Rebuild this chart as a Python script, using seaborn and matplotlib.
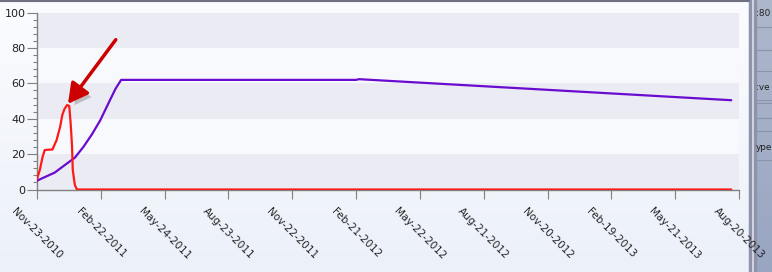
import numpy as np
import pandas as pd
import matplotlib
matplotlib.use("Agg")
import matplotlib.pyplot as plt
import matplotlib.dates as mdates
import matplotlib.patheffects as pe
from matplotlib.ticker import MultipleLocator
import seaborn as sns

# ---- data ----
red_dates = ["2010-11-23", "2010-11-27", "2010-12-01", "2010-12-04", "2010-12-09",
             "2010-12-15", "2010-12-21", "2010-12-26", "2010-12-29", "2011-01-01",
             "2011-01-05", "2011-01-08", "2011-01-10", "2011-01-12", "2011-01-13",
             "2011-01-16", "2011-01-19", "2013-08-09"]
red_values = [6, 11, 18.5, 22.3, 22.5, 22.6, 28, 35.5, 42, 45.4,
              47.8, 47.2, 37.4, 24.2, 11, 2.5, 0, 0]

purple_dates = ["2010-11-23", "2010-12-04", "2010-12-18", "2011-01-04", "2011-01-16",
                "2011-01-28", "2011-02-09", "2011-02-21", "2011-03-07", "2011-03-15",
                "2011-03-23", "2012-02-21", "2012-02-25", "2013-08-09"]
purple_values = [5, 7, 9.5, 14.5, 18, 24, 31, 39, 50.5, 57, 62, 62, 62.4, 50.5]

x_start = "2010-11-23"
x_end = "2013-08-20"
tick_step_days = 91
n_ticks = 12
y_ticks = [0, 20, 40, 60, 80, 100]
panel_texts = [":80", ":ve", "ype"]

red_df = pd.DataFrame({"date": pd.to_datetime(red_dates), "value": red_values})
purple_df = pd.DataFrame({"date": pd.to_datetime(purple_dates), "value": purple_values})

sns.set_style("white")
plt.rcParams["font.family"] = ["DejaVu Sans"]

W, H = 772, 272
fig = plt.figure(figsize=(W / 100, H / 100), dpi=100)

# background gradient
bg = fig.add_axes([0, 0, 1, 1], zorder=-10)
grad = np.linspace(0, 1, 256).reshape(-1, 1)
top_c = np.array([0.985, 0.988, 0.998])
bot_c = np.array([0.925, 0.943, 0.978])
img = top_c[None, None, :] * (1 - grad[:, :, None]) + bot_c[None, None, :] * grad[:, :, None]
bg.imshow(img, aspect="auto", extent=[0, 1, 0, 1])
bg.set_xlim(0, 1); bg.set_ylim(0, 1)
bg.axis("off")

# right-hand UI panel
px = lambda x: x / W
py = lambda y: 1 - y / H
bg.add_patch(plt.Rectangle((px(749), 0), px(772 - 749), 1, color="#dfe3ee", zorder=1))
panel = np.linspace(0, 1, 256).reshape(-1, 1)
pc_top = np.array([0.68, 0.72, 0.80]); pc_bot = np.array([0.60, 0.65, 0.76])
pimg = pc_top[None, None, :] * (1 - panel[:, :, None]) + pc_bot[None, None, :] * panel[:, :, None]
bg.imshow(pimg, aspect="auto", extent=[px(756), 1, 0, 1], zorder=2)
bg.add_patch(plt.Rectangle((px(749), 0), px(2), 1, color="#8e93ab", zorder=3))
bg.add_patch(plt.Rectangle((px(754), 0), px(2), 1, color="#8e93ab", zorder=3))
for yy in [27, 50, 71, 100, 103, 118, 131, 160]:
    bg.plot([px(756), 1], [py(yy), py(yy)], color="#8a93a8", lw=0.8, zorder=4)
bg.plot([0, px(749)], [py(1), py(1)], color="#6e7080", lw=1.5, zorder=4)
for label, yy in zip(panel_texts, [14, 88, 148]):
    bg.text(px(756), py(yy), label, fontsize=6.4, color="#222", va="center", ha="left", zorder=5)
bg.set_xlim(0, 1); bg.set_ylim(0, 1)

# main axes
ax = fig.add_axes([37 / W, 1 - 189.5 / H, (739 - 37) / W, (189.5 - 12.7) / H])
ax.set_facecolor("#f8f9fd")
for lo in (0, 40, 80):
    ax.axhspan(lo, lo + 20, color="#ebebf3", zorder=0, lw=0)

sns.lineplot(data=purple_df, x="date", y="value", ax=ax, color="#6a0bd0", lw=1.6, zorder=3)
sns.lineplot(data=red_df, x="date", y="value", ax=ax, color="#ff1a1a", lw=1.6, zorder=4)

ax.set_xlim(pd.Timestamp(x_start), pd.Timestamp(x_end))
ax.set_ylim(0, 100)
ax.set_xlabel(""); ax.set_ylabel("")

ticks = pd.date_range(x_start, periods=n_ticks, freq=f"{tick_step_days}D")
ax.set_xticks(ticks)
ax.set_xticklabels([t.strftime("%b-%d-%Y") for t in ticks], rotation=-45,
                   ha="center", va="top", fontsize=7.5, color="#222")
ax.set_yticks(y_ticks)
ax.set_yticklabels([str(v) for v in y_ticks], fontsize=8, color="#222")
ax.yaxis.set_minor_locator(MultipleLocator(4))

ax.tick_params(axis="x", direction="out", length=6.5, width=0.8, color="#808080", pad=5.5, bottom=True)
ax.tick_params(axis="y", which="major", direction="out", length=7.2, width=0.8, color="#808080", pad=1, left=True)
ax.tick_params(axis="y", which="minor", direction="out", length=3, width=0.8, color="#808080", left=True)

for s in ("top", "right"):
    ax.spines[s].set_visible(False)
for s in ("left", "bottom"):
    ax.spines[s].set_color("#808080")
    ax.spines[s].set_linewidth(1.0)
ax.grid(False)

# arrow pointing at the red peak
peak_i = int(np.argmax(red_values))
peak_x = mdates.date2num(red_df["date"][peak_i])
ann = ax.annotate("", xy=(peak_x, red_values[peak_i]), xycoords="data",
                  xytext=(35, 47), textcoords="offset points",
                  arrowprops=dict(arrowstyle="-|>,head_length=1.2,head_width=0.65",
                                  color="#cc0000", lw=2.5, shrinkA=0, shrinkB=1),
                  zorder=6)
ann.arrow_patch.set_path_effects([pe.SimplePatchShadow(offset=(3, -3), shadow_rgbFace="#888888", alpha=0.45),
                                  pe.Normal()])

fig.savefig("out.png", dpi=100)
